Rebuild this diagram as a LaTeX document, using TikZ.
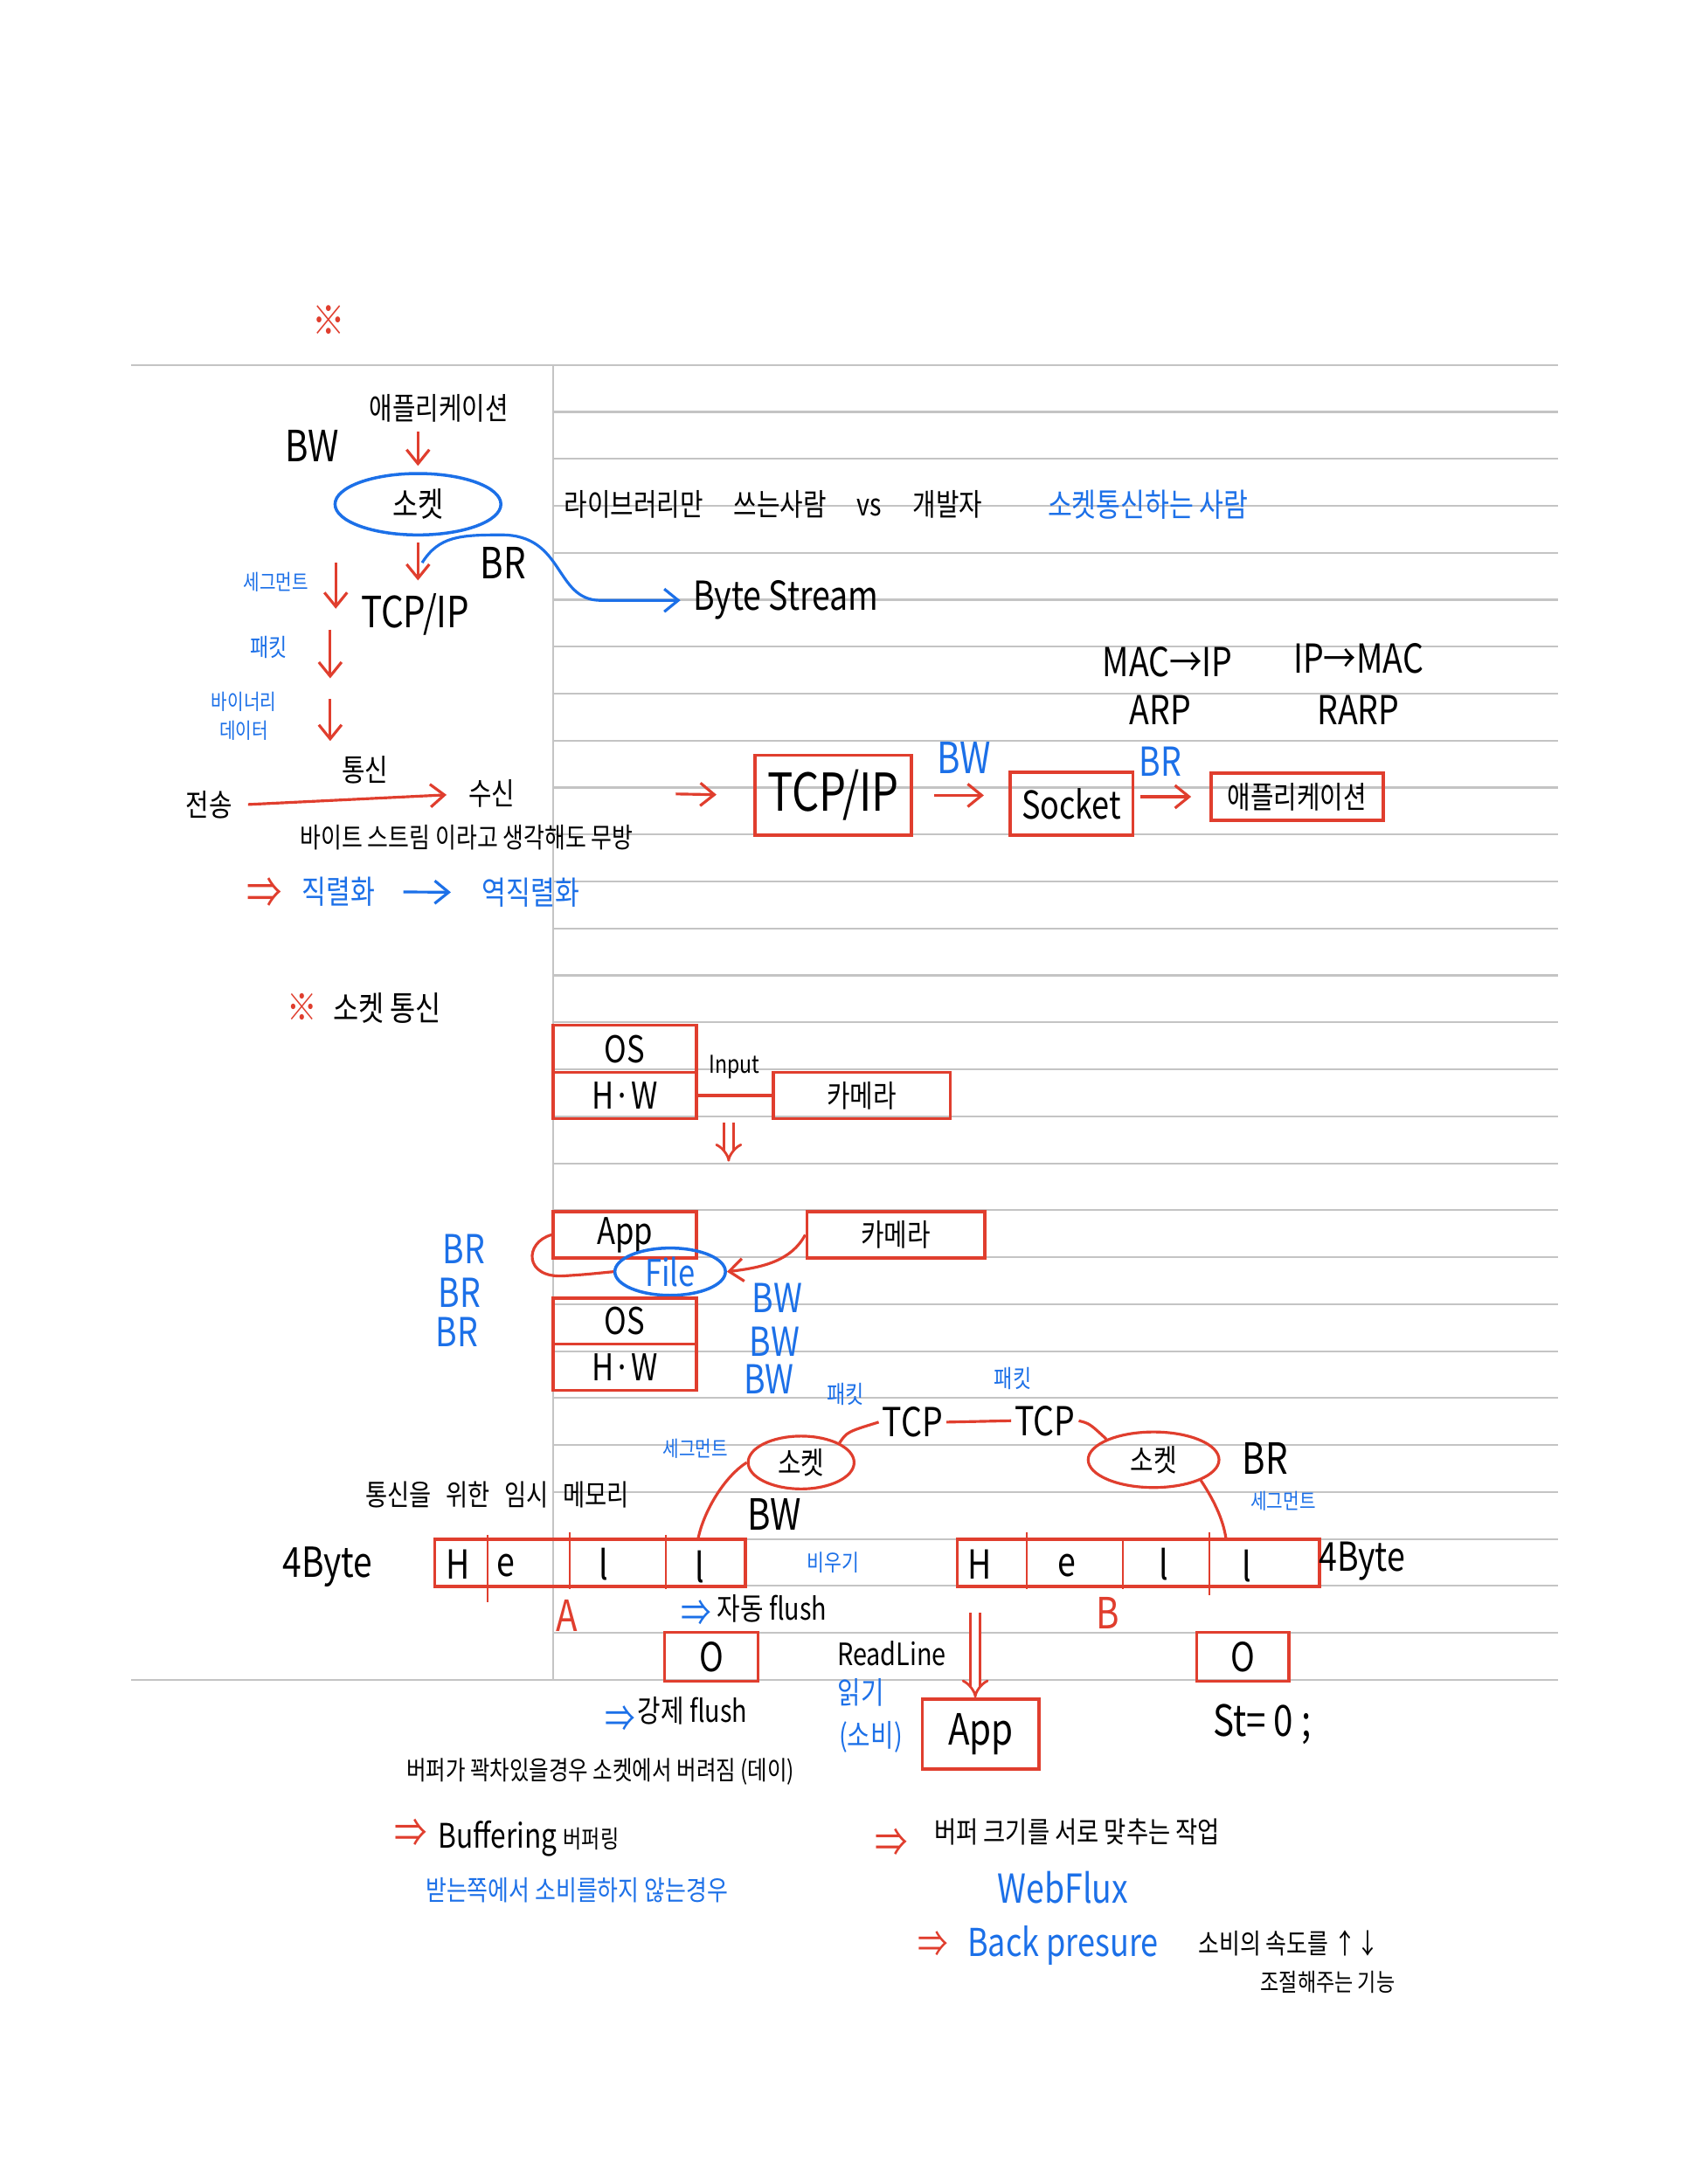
\documentclass[tikz,border=0pt]{standalone}
\usepackage{fontspec}
\setmainfont{Noto Sans CJK KR}[FakeStretch=0.82]
\usetikzlibrary{arrows.meta, positioning, shapes.geometric}
\definecolor{penred}{RGB}{224,62,46}
\definecolor{penblue}{RGB}{28,112,232}
\definecolor{rulegray}{RGB}{196,196,196}
\newcommand\penfs[1]{\fontsize{#1}{#1}\selectfont}

\begin{document}
\begin{tikzpicture}[
  x=0.15944mm, y=-0.15944mm,
  ruled/.style={rulegray, line width=0.6pt},
  redbox/.style={draw=penred, line width=1pt, inner sep=0pt},
  redoval/.style={ellipse, draw=penred, line width=0.9pt, inner sep=0pt},
  blueoval/.style={ellipse, draw=penblue, line width=1pt, inner sep=0pt},
  redarr/.style={-{Straight Barb[length=1.6mm, width=2.6mm]}, line width=0.9pt, penred},
  bluearr/.style={-{Straight Barb[length=1.6mm, width=2.6mm]}, line width=0.9pt, penblue},
  dblarr/.style={double=white, double distance=2.2pt, line width=0.8pt, penred, -{Implies}},
  redline/.style={line width=0.9pt, penred},
  divider/.style={line width=0.7pt, penred},
  txt/.style={inner sep=1pt},
  btxt/.style={inner sep=1pt, text=penblue},
  rtxt/.style={inner sep=1pt, text=penred}
]
\fill[white] (0,0) rectangle (1213,1568);

% ruled page
\draw[ruled] (94,262) -- (1118,262);
\draw[ruled] (94,1206) -- (1118,1206);
\draw[ruled] (397,262) -- (397,1206);
\foreach \k in {1,...,27}
  \draw[ruled] (397,{262+\k*33.714}) -- (1118,{262+\k*33.714});

% socket layers
\node[rtxt, font=\penfs{13}] (mark1) at (236,230) {※};
\node[txt, font=\penfs{10}] (apptop) at (315,293) {애플리케이션};
\node[txt, font=\penfs{14}] (bwtop) at (224,320) {BW};
\node[blueoval, minimum width=54pt, minimum height=20pt, font=\penfs{11}] (sock) at (300,362) {소켓};
\node[txt, font=\penfs{14}] (brtop) at (361,404) {BR};
\node[txt, font=\penfs{14}] (tcpip) at (298,441) {TCP/IP};
\node[txt, font=\penfs{13}, anchor=west] (bytes) at (495,431) {Byte Stream};
\coordinate (brsrc) at (303,404);
\draw[redarr, shorten <=2pt, shorten >=2pt] (apptop.south -| sock.north) -- (sock.north);
\draw[redarr, shorten <=2pt, shorten >=3pt] (sock.south) -- (sock.south |- tcpip.north);
\draw[bluearr, shorten >=3pt] (brsrc) .. controls (315,385) and (330,384) .. (360,384)
  .. controls (405,384) and (398,430) .. (430,431) -- (bytes.west);
\node[txt, font=\penfs{10}] (libuser) at (555,362) {라이브러리만\quad 쓰는사람\quad vs\quad 개발자};
\node[btxt, font=\penfs{10.5}] (sockuser) at (824,362) {소켓통신하는 사람};

\node[btxt, font=\penfs{7}] (seg1) at (198,418) {세그먼트};
\node[btxt, font=\penfs{8}] (pkt1) at (193,465) {패킷};
\node[btxt, font=\fontsize{7}{9.5}\selectfont, align=center] (bin1) at (175,514) {바이너리\\데이터};
\coordinate (s1a) at (241,404); \coordinate (s1b) at (241,437);
\coordinate (s2a) at (237,452); \coordinate (s2b) at (237,487);
\coordinate (s3a) at (237,502); \coordinate (s3b) at (237,532);
\draw[redarr] (s1a) -- (s1b);
\draw[redarr] (s2a) -- (s2b);
\draw[redarr] (s3a) -- (s3b);

\node[txt, font=\penfs{10}] (send) at (150,578) {전송};
\node[txt, font=\penfs{10}] (recv) at (353,570) {수신};
\node[txt, font=\penfs{10}] (comm) at (262,553) {통신};
\draw[redarr, shorten <=4pt, shorten >=6pt] (send.east) -- (recv.west);
\node[txt, font=\penfs{9}] (bsnote) at (335,601) {바이트 스트림 이라고 생각해도 무방};
\node[rtxt, font=\penfs{14}] (imp1) at (190,641) {⇒};
\node[btxt, font=\penfs{10.5}] (ser) at (243,640) {직렬화};
\node[btxt, font=\penfs{10.5}] (deser) at (381,641) {역직렬화};
\draw[bluearr, shorten <=8pt, shorten >=9pt] (ser) -- (deser);

% chain on the right
\coordinate (lead) at (485,570);
\node[redbox, minimum width=51pt, minimum height=26pt, font=\penfs{17}] (tcpbox) at (598,571) {TCP/IP};
\node[redbox, minimum width=40pt, minimum height=20.4pt, font=\penfs{12.5}] (sockbox) at (769,577) {Socket};
\node[redbox, minimum width=56pt, minimum height=15.4pt, font=\penfs{10}] (appbox) at (931,572) {애플리케이션};
\draw[redarr, shorten >=12pt] (lead) -- (tcpbox.west);
\draw[redarr, shorten <=7pt, shorten >=8pt] (tcpbox.east) -- (tcpbox.east -| sockbox.west);
\draw[redarr, shorten <=2pt, shorten >=6pt] (sockbox.east |- appbox.west) -- (appbox.west);
\node[btxt, font=\penfs{14}] (bwchain) at (692,544) {BW};
\node[btxt, font=\penfs{13}] (brchain) at (833,547) {BR};

\node[txt, font=\penfs{13}] (mac2ip) at (838,475) {MAC→IP};
\node[txt, font=\penfs{13}] (ip2mac) at (975,473) {IP→MAC};
\node[txt, font=\penfs{13}] (arp) at (833,510) {ARP};
\node[txt, font=\penfs{13}] (rarp) at (975,510) {RARP};

% socket communication
\node[rtxt, font=\penfs{12}] (mark2) at (217,723) {※};
\node[txt, font=\penfs{11}] (socktitle) at (278,724) {소켓 통신};
\node[redbox, minimum width=46.7pt, minimum height=15.4pt, font=\penfs{12}] (os1) at (448.5,753) {OS};
\node[redbox, minimum width=46.7pt, minimum height=15pt, font=\penfs{12}] (hw1) at (448.5,786.5) {H·W};
\node[redbox, minimum width=57.6pt, minimum height=15pt, font=\penfs{10}] (cam1) at (618.5,786.5) {카메라};
\draw[redline] (hw1.east) -- (cam1.west);
\node[txt, font=\penfs{8}] (input) at (527,766) {Input};
\coordinate (inA) at (523,806); \coordinate (inB) at (523,834);
\draw[dblarr] (inA) -- (inB);

\node[redbox, minimum width=46.7pt, minimum height=15pt, font=\penfs{12}] (app2) at (448.5,886.5) {App};
\node[redbox, minimum width=58pt, minimum height=15pt, font=\penfs{10}] (cam2) at (643,886.5) {카메라};
\node[blueoval, minimum width=36pt, minimum height=15.4pt, font=\penfs{12}, text=penblue] (file) at (481,913) {File};
\node[redbox, minimum width=46.7pt, minimum height=15pt, font=\penfs{12}] (os2) at (448.5,948.5) {OS};
\node[redbox, minimum width=46.7pt, minimum height=15pt, font=\penfs{12}] (hw2) at (448.5,981.5) {H·W};
\draw[redline] (app2.west) .. controls (376,892) and (376,918) .. (405,916) .. controls (420,915) .. (file.west);
\draw[redarr] (cam2.west) .. controls (568,905) and (548,910) .. (file.east);
\node[btxt, font=\penfs{13}] (br1) at (333,897) {BR};
\node[btxt, font=\penfs{13}] (br2) at (330,928) {BR};
\node[btxt, font=\penfs{13}] (br3) at (328,956) {BR};
\node[btxt, font=\penfs{13}] (bw1) at (558,932) {BW};
\node[btxt, font=\penfs{13}] (bw2) at (556,963) {BW};
\node[btxt, font=\penfs{13}] (bw3) at (552,990) {BW};

% two sockets over tcp
\node[btxt, font=\penfs{8}] (pkt2) at (607,1001) {패킷};
\node[btxt, font=\penfs{8}] (pkt3) at (727,990) {패킷};
\node[txt, font=\penfs{13}] (tcpl) at (655,1021) {TCP};
\node[txt, font=\penfs{13}] (tcpr) at (750,1020) {TCP};
\draw[redline] (tcpl.east) -- (tcpr.west);
\node[btxt, font=\penfs{7}] (seg2) at (499,1040) {세그먼트};
\node[redoval, minimum width=34.5pt, minimum height=17.2pt, font=\penfs{10}] (sockl) at (575,1050) {소켓};
\node[redoval, minimum width=42.6pt, minimum height=18.1pt, font=\penfs{10}] (sockr) at (828,1048) {소켓};
\node[txt, font=\penfs{14}] (brr) at (908,1047) {BR};
\node[btxt, font=\penfs{7}] (seg3) at (921,1078) {세그먼트};
\coordinate (tapA) at (501,1105);
\coordinate (tapB) at (880,1105);
\draw[redline] (sockl.north east) .. controls (608,1028) .. (tcpl.west);
\draw[redline] (tcpr.east) .. controls (782,1022) .. (sockr.north west);
\draw[redline] (sockl.west) .. controls (520,1060) and (505,1085) .. (tapA);
\draw[redline] (sockr.south east) .. controls (870,1075) and (878,1090) .. (tapB);
\node[txt, font=\penfs{9.5}] (tmpmem) at (357,1073) {통신을\enspace 위한\enspace 임시\enspace 메모리};
\node[txt, font=\penfs{14}] (bwmid) at (556,1087) {BW};

% buffers
\node[txt, font=\penfs{13.5}] (fourl) at (235,1125) {4Byte};
\node[redbox, minimum width=101.2pt, minimum height=15.4pt] (bufa) at (423.5,1122) {};
\draw[divider] (350,1102) -- (350,1150);
\draw[divider] (409,1100) -- (409,1141);
\draw[divider] (478,1102) -- (478,1141);
\node[txt, font=\penfs{13}] (ha) at (329,1123) {H};
\node[txt, font=\penfs{13}] (ea) at (363,1124) {e};
\node[txt, font=\penfs{13}] (la) at (433,1123) {l};
\node[txt, font=\penfs{13}] (lla) at (502,1125) {l};
\node[btxt, font=\penfs{7.5}] (empty) at (598,1122) {비우기};
\node[redbox, minimum width=118pt, minimum height=15.4pt] (bufb) at (817,1122) {};
\draw[divider] (737,1100) -- (737,1141);
\draw[divider] (806,1105) -- (806,1141);
\draw[divider] (868,1100) -- (868,1145);
\node[txt, font=\penfs{13}] (hb) at (703,1123) {H};
\node[txt, font=\penfs{13}] (eb) at (766,1124) {e};
\node[txt, font=\penfs{13}] (lb) at (835,1123) {l};
\node[txt, font=\penfs{13}] (llb) at (895,1124) {l};
\node[txt, font=\penfs{13}, anchor=west] (fourr) at (944,1121) {4Byte};
\node[rtxt, font=\penfs{14}] (lblA) at (407,1160) {A};
\node[rtxt, font=\penfs{14}] (lblB) at (795,1158) {B};

\node[btxt, font=\penfs{12}] (imp2) at (500,1158) {⇒};
\node[txt, font=\penfs{10}, anchor=west] (autofl) at (512,1155) {자동 flush};
\node[redbox, minimum width=30.4pt, minimum height=15.9pt, font=\penfs{13}] (oa) at (510.5,1189.5) {O};
\node[redbox, minimum width=30pt, minimum height=15.9pt, font=\penfs{13}] (ob) at (892,1189.5) {O};
\node[txt, font=\penfs{10}] (readln) at (640,1187) {ReadLine};
\node[redbox, minimum width=38pt, minimum height=22.7pt, font=\penfs{14}] (appb) at (704,1245) {App};
\coordinate (rdtop) at (700,1158);
\draw[dblarr] (rdtop) -- (rdtop |- appb.north);
\node[btxt, font=\penfs{10}] (readk) at (618,1215) {읽기};
\node[btxt, font=\penfs{10}] (consume) at (625,1247) {(소비)};
\node[txt, font=\penfs{14}] (st0) at (906,1238) {St= 0 ;};
\node[btxt, font=\penfs{12}] (imp3) at (445,1234) {⇒};
\node[txt, font=\penfs{10}, anchor=west] (forcefl) at (455,1228) {강제 flush};
\node[txt, font=\penfs{8.5}] (dropnote) at (431,1272) {버퍼가 꽉차있을경우 소켓에서 버려짐 (데이)};

% notes
\node[rtxt, font=\penfs{13}] (imp4) at (295,1316) {⇒};
\node[txt, font=\penfs{11}, anchor=west] (buffering) at (312,1320) {Buffering {\penfs{8}버퍼링}};
\node[btxt, font=\penfs{9}] (nocons) at (414,1357) {받는쪽에서 소비를하지 않는경우};
\node[rtxt, font=\penfs{13}] (imp5) at (640,1323) {⇒};
\node[txt, font=\penfs{9.5}, anchor=west] (sizematch) at (668,1315) {버퍼 크기를 서로 맞추는 작업};
\node[btxt, font=\penfs{13}] (webflux) at (763,1355) {WebFlux};
\node[rtxt, font=\penfs{12}] (imp6) at (670,1396) {⇒};
\node[btxt, font=\penfs{12.5}] (backp) at (763,1397) {Back presure};
\node[txt, font=\penfs{9}] (speed) at (925,1395) {소비의 속도를 ↑↓};
\node[txt, font=\penfs{8}] (ctrl) at (953,1423) {조절해주는 기능};
\end{tikzpicture}
\end{document}
